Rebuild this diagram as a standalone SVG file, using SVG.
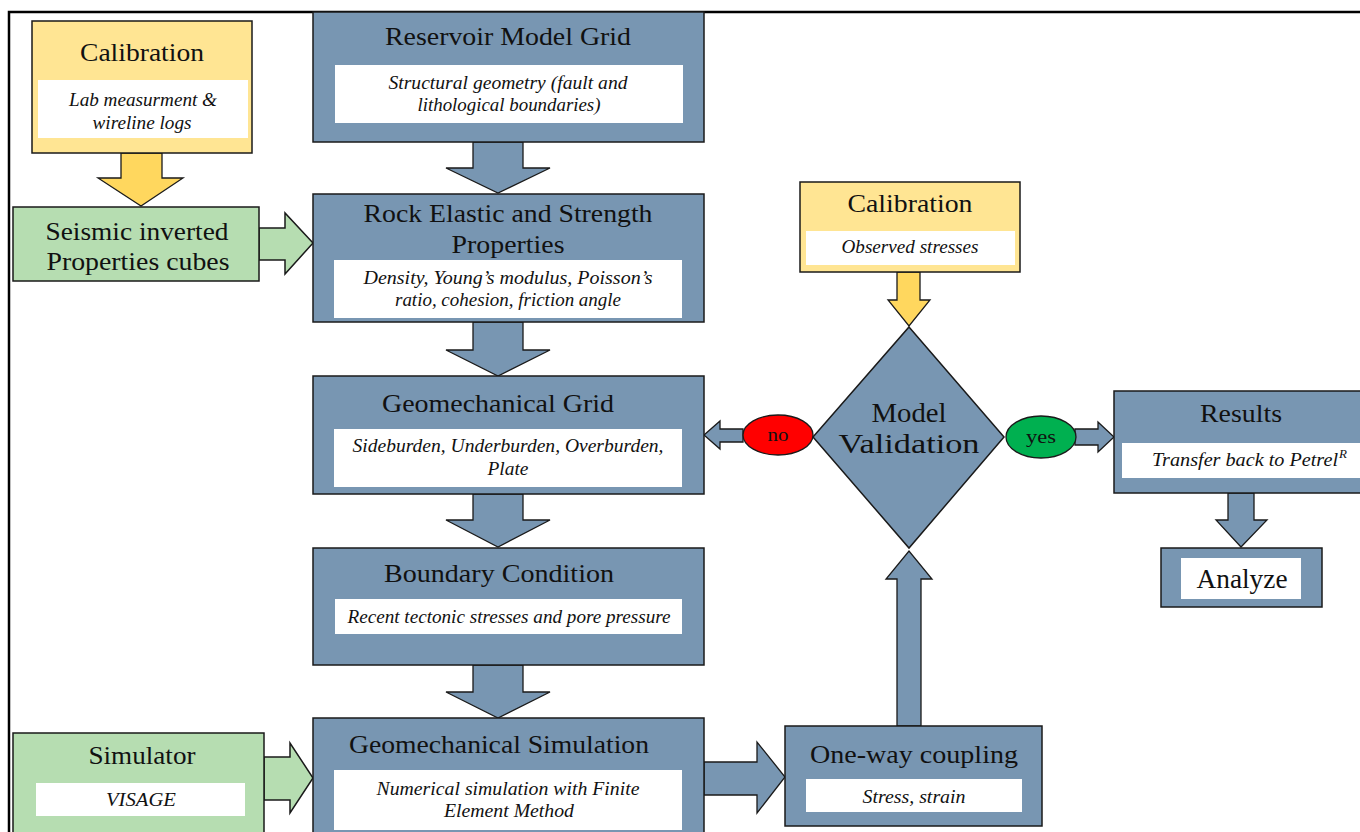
<svg xmlns="http://www.w3.org/2000/svg" width="1360" height="832" viewBox="0 0 1360 832">
<style>
.blue{fill:#7896B2;stroke:#1a1a1a;stroke-width:1.5}
.yel{fill:#FFE593;stroke:#1a1a1a;stroke-width:1.5}
.yarr{fill:#FFD75E;stroke:#1a1a1a;stroke-width:1.3}
.grn{fill:#B6DDB1;stroke:#1a1a1a;stroke-width:1.5}
.wht{fill:#FFFFFF;stroke:none}
.barr{fill:#7896B2;stroke:#1a1a1a;stroke-width:1.3}
.t{font-family:"Liberation Serif","Times New Roman",serif;font-size:25px;fill:#111;text-anchor:middle}
.s{font-family:"Liberation Serif","Times New Roman",serif;font-size:18px;font-style:italic;fill:#111;text-anchor:middle}
</style>
<rect x="0" y="0" width="1360" height="832" fill="#FFFFFF"/>
<path d="M9,832 V12 H1360" fill="none" stroke="#000" stroke-width="2.5"/>

<g id="connectors">
  <path class="yarr" d="M121,153 H162 V178 H183 L141,206 L98,178 H121 Z"/>
  <path class="grn" d="M259,228 H285 V213 L313,243 L285,274 V260 H259 Z"/>
  <path class="barr" d="M473,142 H523 V168 H550 L498,193 L446,168 H473 Z"/>
  <path class="barr" d="M473,322 H523 V350 H550 L498,376 L446,350 H473 Z"/>
  <path class="barr" d="M473,494 H523 V520 H550 L498,547 L446,520 H473 Z"/>
  <path class="barr" d="M473,665 H523 V692 H550 L498,718 L446,692 H473 Z"/>
  <path class="grn" d="M264,757 H290 V743 L313,778 L290,813 V800 H264 Z"/>
  <path class="barr" d="M704,762 H757 V742 L785,777 L757,813 V795 H704 Z"/>
  <path class="barr" d="M897,726 V579 H886 L909,551 L932,579 H921 V726 Z"/>
  <path class="yarr" d="M897,272 H920 V300 H930 L909,326 L888,300 H897 Z"/>
  <path class="barr" d="M743,429 H720 V421 L704,435 L720,449 V442 H743 Z"/>
  <path class="barr" d="M1075,429 H1098 V422 L1114,437 L1098,452 V445 H1075 Z"/>
  <path class="barr" d="M1228,493 H1254 V520 H1267 L1241,547 L1216,520 H1228 Z"/>
</g>

<g id="calibration-left">
  <rect class="yel" x="32" y="21" width="220" height="132"/>
  <rect class="wht" x="38" y="80" width="210" height="58"/>
  <text class="t" x="142" y="61" textLength="124" lengthAdjust="spacingAndGlyphs">Calibration</text>
  <text class="s" x="143" y="106" textLength="148" lengthAdjust="spacingAndGlyphs">Lab measurment &amp;</text>
  <text class="s" x="142" y="129" textLength="99" lengthAdjust="spacingAndGlyphs">wireline logs</text>
</g>

<g id="seismic">
  <rect class="grn" x="13" y="207" width="246" height="74"/>
  <text class="t" x="137" y="240" textLength="183" lengthAdjust="spacingAndGlyphs">Seismic inverted</text>
  <text class="t" x="138" y="270" textLength="183" lengthAdjust="spacingAndGlyphs">Properties cubes</text>
</g>

<g id="reservoir">
  <rect class="blue" x="313" y="12" width="391" height="130"/>
  <rect class="wht" x="335" y="65" width="348" height="58"/>
  <text class="t" x="508" y="45" textLength="246" lengthAdjust="spacingAndGlyphs">Reservoir Model Grid</text>
  <text class="s" x="508" y="89" textLength="239" lengthAdjust="spacingAndGlyphs">Structural geometry (fault and</text>
  <text class="s" x="509" y="111" textLength="183" lengthAdjust="spacingAndGlyphs">lithological boundaries)</text>
</g>

<g id="rock">
  <rect class="blue" x="313" y="194" width="391" height="128"/>
  <rect class="wht" x="334" y="260" width="348" height="58"/>
  <text class="t" x="508" y="222" textLength="289" lengthAdjust="spacingAndGlyphs">Rock Elastic and Strength</text>
  <text class="t" x="508" y="253" textLength="113" lengthAdjust="spacingAndGlyphs">Properties</text>
  <text class="s" x="508" y="284" textLength="289" lengthAdjust="spacingAndGlyphs">Density, Young’s modulus, Poisson’s</text>
  <text class="s" x="508" y="306" textLength="226" lengthAdjust="spacingAndGlyphs">ratio, cohesion, friction angle</text>
</g>

<g id="geogrid">
  <rect class="blue" x="313" y="376" width="391" height="118"/>
  <rect class="wht" x="334" y="429" width="348" height="58"/>
  <text class="t" x="498" y="412" textLength="232" lengthAdjust="spacingAndGlyphs">Geomechanical Grid</text>
  <text class="s" x="508" y="452" textLength="311" lengthAdjust="spacingAndGlyphs">Sideburden, Underburden, Overburden,</text>
  <text class="s" x="508" y="475" textLength="41" lengthAdjust="spacingAndGlyphs">Plate</text>
</g>

<g id="boundary">
  <rect class="blue" x="313" y="548" width="391" height="117"/>
  <rect class="wht" x="335" y="599" width="347" height="35"/>
  <text class="t" x="499" y="582" textLength="230" lengthAdjust="spacingAndGlyphs">Boundary Condition</text>
  <text class="s" x="509" y="623" textLength="323" lengthAdjust="spacingAndGlyphs">Recent tectonic stresses and pore pressure</text>
</g>

<g id="geosim">
  <rect class="blue" x="313" y="718" width="391" height="120"/>
  <rect class="wht" x="334" y="770" width="348" height="60"/>
  <text class="t" x="499" y="753" textLength="300" lengthAdjust="spacingAndGlyphs">Geomechanical Simulation</text>
  <text class="s" x="508" y="795" textLength="263" lengthAdjust="spacingAndGlyphs">Numerical simulation with Finite</text>
  <text class="s" x="509" y="817" textLength="130" lengthAdjust="spacingAndGlyphs">Element Method</text>
</g>

<g id="simulator">
  <rect class="grn" x="13" y="733" width="251" height="105"/>
  <rect class="wht" x="36" y="783" width="209" height="33"/>
  <text class="t" x="142" y="764" textLength="107" lengthAdjust="spacingAndGlyphs">Simulator</text>
  <text class="s" x="141" y="806" textLength="70" lengthAdjust="spacingAndGlyphs">VISAGE</text>
</g>

<g id="coupling">
  <rect class="blue" x="785" y="726" width="257" height="100"/>
  <rect class="wht" x="806" y="779" width="216" height="33"/>
  <text class="t" x="914" y="763" textLength="208" lengthAdjust="spacingAndGlyphs">One-way coupling</text>
  <text class="s" x="914" y="803" textLength="103" lengthAdjust="spacingAndGlyphs">Stress, strain</text>
</g>

<g id="calibration-right">
  <rect class="yel" x="800" y="182" width="220" height="90"/>
  <rect class="wht" x="806" y="231" width="209" height="34"/>
  <text class="t" x="910" y="212" textLength="125" lengthAdjust="spacingAndGlyphs">Calibration</text>
  <text class="s" x="910" y="253" textLength="137" lengthAdjust="spacingAndGlyphs">Observed stresses</text>
</g>

<g id="validation">
  <path class="blue" d="M909,327 L1004,437 L909,548 L813,437 Z"/>
  <text class="t" x="909" y="422" style="font-size:27px" textLength="75" lengthAdjust="spacingAndGlyphs">Model</text>
  <text class="t" x="909" y="453" style="font-size:27px" textLength="141" lengthAdjust="spacingAndGlyphs">Validation</text>
</g>

<g id="no">
  <ellipse cx="778" cy="435" rx="35" ry="20" fill="#FF0000" stroke="#1a1a1a" stroke-width="1.3"/>
  <text class="t" x="778" y="441" style="font-size:18px" textLength="21" lengthAdjust="spacingAndGlyphs">no</text>
</g>

<g id="yes">
  <ellipse cx="1041" cy="437" rx="35" ry="21" fill="#00B050" stroke="#1a1a1a" stroke-width="1.3"/>
  <text class="t" x="1041" y="443" style="font-size:18px" textLength="30" lengthAdjust="spacingAndGlyphs">yes</text>
</g>

<g id="results">
  <rect class="blue" x="1114" y="391" width="260" height="102"/>
  <rect class="wht" x="1122" y="443" width="240" height="35"/>
  <text class="t" x="1241" y="422" textLength="82" lengthAdjust="spacingAndGlyphs">Results</text>
  <text class="s" x="1152" y="466" style="text-anchor:start" textLength="186" lengthAdjust="spacingAndGlyphs">Transfer back to Petrel</text>
  <text class="s" x="1339" y="458" style="text-anchor:start;font-size:13px">R</text>
</g>

<g id="analyze">
  <rect class="blue" x="1161" y="548" width="161" height="59"/>
  <rect class="wht" x="1181" y="558" width="120" height="41"/>
  <text class="t" x="1242" y="588" style="font-size:27px" textLength="91" lengthAdjust="spacingAndGlyphs">Analyze</text>
</g>
</svg>
